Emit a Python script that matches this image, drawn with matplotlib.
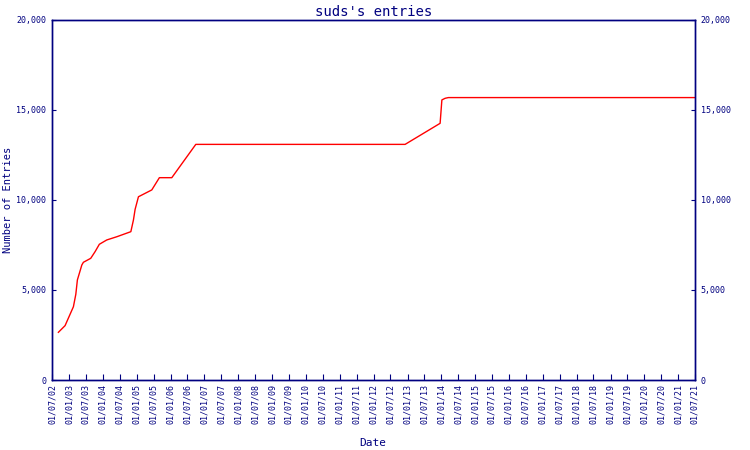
import numpy as np
import pandas as pd
import matplotlib; matplotlib.use('Agg')
import matplotlib.pyplot as plt
import matplotlib.dates as mdates
from matplotlib.ticker import FuncFormatter, FixedLocator

NAVY = '#000080'

# ── Data ─────────────────────────────────────────────────────────────────────
dates = [
    '2002-09-08', '2002-11-19', '2003-02-17', '2003-03-15', '2003-04-01',
    '2003-05-19', '2003-06-05', '2003-08-23', '2003-10-09', '2003-11-24',
    '2004-02-12', '2004-05-31', '2004-10-29', '2004-11-26', '2004-12-14',
    '2005-01-19', '2005-06-12', '2005-09-02', '2006-01-14', '2006-09-30',
    '2012-12-06', '2013-12-19', '2014-01-07', '2014-02-11', '2014-03-18',
    '2021-07-01',
]
entries = [
    2650, 3020, 4070, 4760, 5560,
    6390, 6540, 6760, 7130, 7540,
    7780, 7960, 8240, 8890, 9480,
    10180, 10560, 11240, 11240, 13090,
    13090, 14260, 15560, 15650, 15690,
    15690,
]
tick_dates = pd.date_range('2002-07-01', '2021-07-01', freq='6MS')
y_ticks = [0, 5000, 10000, 15000, 20000]

t = pd.to_datetime(dates)

# ── Figure ───────────────────────────────────────────────────────────────────
plt.rcParams['font.family'] = 'DejaVu Sans Mono'
fig = plt.figure(figsize=(7.5, 4.5), dpi=100)
ax = fig.add_axes([52/750, 1 - 380/450, (695 - 52)/750, (380 - 20)/450])

ax.plot(t, entries, color='red', lw=1.0)

ax.set_xlim(tick_dates[0], tick_dates[-1])
ax.set_ylim(0, 20000)

fmt = FuncFormatter(lambda v, p: f'{int(v):,}')
ax.yaxis.set_major_locator(FixedLocator(y_ticks))
ax.yaxis.set_major_formatter(fmt)
ax.xaxis.set_major_locator(FixedLocator(mdates.date2num(tick_dates)))
ax.xaxis.set_major_formatter(mdates.DateFormatter('%d/%m/%y'))

for s in ax.spines.values():
    s.set_color(NAVY)
    s.set_linewidth(1.0)

ax.tick_params(axis='x', direction='in', length=4, color=NAVY, labelcolor=NAVY,
               labelsize=6, rotation=90, pad=3)
ax.tick_params(axis='y', direction='in', length=3, color=NAVY, labelcolor=NAVY,
               labelsize=6, pad=4)

ax2 = ax.twinx()
ax2.set_ylim(0, 20000)
ax2.yaxis.set_major_locator(FixedLocator(y_ticks))
ax2.yaxis.set_major_formatter(fmt)
ax2.tick_params(axis='y', direction='in', length=3, color=NAVY, labelcolor=NAVY,
                labelsize=6, pad=4)
for s in ax2.spines.values():
    s.set_color(NAVY)
    s.set_linewidth(1.0)

ax.set_title("suds's entries", color=NAVY, fontsize=10, pad=3)
fig.text(8/750, 1 - 200/450, 'Number of Entries', color=NAVY, fontsize=7.5,
         rotation=90, ha='center', va='center')
fig.text(373/750, 1 - 443/450, 'Date', color=NAVY, fontsize=8,
         ha='center', va='center')

fig.savefig('out.png', dpi=100)
